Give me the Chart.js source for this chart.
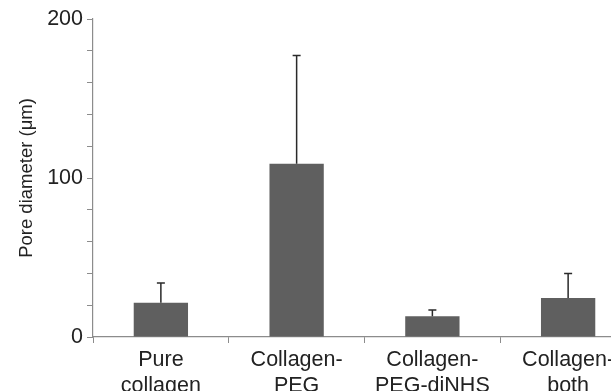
<!DOCTYPE html>
<html>
<head>
<meta charset="utf-8">
<script src="https://cdn.jsdelivr.net/npm/chart.js@4/dist/chart.umd.min.js"></script>
<style>
  html, body { margin: 0; padding: 0; background: #fff; overflow: hidden; }
  #wrap { width: 611px; height: 391px; overflow: hidden; }
  canvas { display: block; }
</style>
</head>
<body>
<div id="wrap"><canvas id="c" width="640" height="391"></canvas></div>
<script>
// Mean pore diameter per hydrogel formulation, with one standard deviation
const categories = [["Pure", "collagen"], ["Collagen-", "PEG"], ["Collagen-", "PEG-diNHS"], ["Collagen-", "both"]];
const poreMean = [21.5, 109, 13, 24.5];
const poreSD = [12.5, 68, 4, 15.5];
const yTickLabels = [0, 100, 200];

const FONT = "'Liberation Sans', Arial, sans-serif";
const AXIS_GREY = '#8c8c8c';
const TEXT = '#222222';

// Upward error bars with a short cap, positioned through the chart's own scales
const errorBars = {
  id: 'errorBars',
  afterDatasetsDraw(chart) {
    const meta = chart.getDatasetMeta(0);
    const y = chart.scales.y;
    const ctx = chart.ctx;
    ctx.save();
    ctx.strokeStyle = '#2a2a2a';
    ctx.lineWidth = 1.5;
    meta.data.forEach((bar, i) => {
      const yTop = y.getPixelForValue(poreMean[i] + poreSD[i]);
      const yBase = y.getPixelForValue(poreMean[i]);
      ctx.beginPath();
      ctx.moveTo(bar.x, yBase);
      ctx.lineTo(bar.x, yTop);
      ctx.moveTo(bar.x - 4, yTop);
      ctx.lineTo(bar.x + 4, yTop);
      ctx.stroke();
    });
    ctx.restore();
  }
};

new Chart(document.getElementById('c'), {
  type: 'bar',
  data: {
    labels: categories,
    datasets: [{
      data: poreMean,
      backgroundColor: '#5f5f5f',
      borderWidth: 0,
      categoryPercentage: 0.4,
      barPercentage: 1
    }]
  },
  options: {
    responsive: false,
    animation: false,
    events: [],
    layout: { padding: { top: 19, right: 4, left: 0, bottom: 0 } },
    plugins: { legend: { display: false }, tooltip: { enabled: false } },
    scales: {
      x: {
        grid: { display: true, offset: true, drawOnChartArea: false, color: AXIS_GREY, tickLength: 6, lineWidth: 1 },
        border: { color: AXIS_GREY, width: 1.2 },
        ticks: { color: TEXT, font: { family: FONT, size: 21.5 }, padding: 4, maxRotation: 0, autoSkip: false },
        afterFit(scale) { scale.height = 54; }
      },
      y: {
        min: 0,
        max: 200,
        grid: { display: true, drawOnChartArea: false, color: AXIS_GREY, tickLength: 6, lineWidth: 1 },
        border: { color: AXIS_GREY, width: 1.2 },
        ticks: {
          stepSize: 20,
          color: TEXT,
          font: { family: FONT, size: 21.5 },
          padding: 4,
          callback: (v) => yTickLabels.includes(v) ? String(v) : ''
        },
        title: {
          display: true,
          text: 'Pore diameter (\u03bcm)',
          color: TEXT,
          font: { family: FONT, size: 18.5 },
          padding: { top: 16, bottom: 0 }
        },
        afterFit(scale) { scale.width = 93; }
      }
    }
  },
  plugins: [errorBars]
});
</script>
</body>
</html>
